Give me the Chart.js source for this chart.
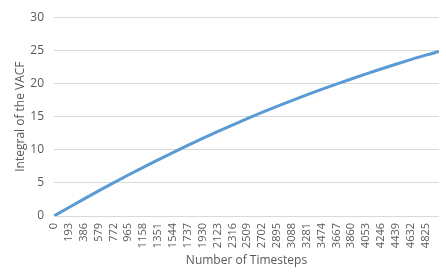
<!DOCTYPE html>
<html>
<head>
<meta charset="utf-8">
<script src="https://cdn.jsdelivr.net/npm/chart.js@4"></script>
<style>
  html, body { margin: 0; padding: 0; background: #fff; }
  canvas { display: block; }
</style>
</head>
<body>
<canvas id="vacfChart" width="446" height="273"></canvas>
<script>
// timesteps sampled from the curve, and the integral read at each one
const timesteps = [0, 193, 386, 579, 772, 965, 1158, 1351, 1544, 1737, 1930, 2123, 2316,
  2509, 2702, 2895, 3088, 3281, 3474, 3667, 3860, 4053, 4246, 4439, 4632, 4825, 4999];
const vacfIntegral = [0, 1.29, 2.55, 3.79, 5.0, 6.18, 7.34, 8.47, 9.57, 10.65, 11.7, 12.72, 13.72,
  14.69, 15.63, 16.54, 17.42, 18.27, 19.1, 19.9, 20.68, 21.44, 22.18, 22.9, 23.6, 24.27, 24.83];
const xTickLabels = [0, 193, 386, 579, 772, 965, 1158, 1351, 1544, 1737, 1930, 2123, 2316,
  2509, 2702, 2895, 3088, 3281, 3474, 3667, 3860, 4053, 4246, 4439, 4632, 4825];
const yTicks = [0, 5, 10, 15, 20, 25, 30];

const textColor = "#595959";
const gridColor = "#d9d9d9";
const tickFont = { family: "'Open Sans', 'Liberation Sans', sans-serif", size: 11 };
const titleFont = { family: "'Open Sans', 'Liberation Sans', sans-serif", size: 12 };

document.addEventListener("DOMContentLoaded", function () {
  const ctx = document.getElementById("vacfChart").getContext("2d");
  new Chart(ctx, {
    type: "line",
    data: {
      datasets: [
        {
          label: "Integral of the VACF",
          data: timesteps.map((t, i) => ({ x: t, y: vacfIntegral[i] })),
          borderColor: "#5b9bd5",
          borderWidth: 3,
          pointRadius: 0,
          tension: 0.4,
          cubicInterpolationMode: "monotone",
          fill: false,
        },
      ],
    },
    options: {
      responsive: false,
      animation: false,
      layout: { padding: { top: 11, right: 6, bottom: 0, left: 13 } },
      plugins: {
        legend: { display: false },
        tooltip: { enabled: false },
      },
      scales: {
        x: {
          type: "linear",
          min: 0,
          max: 4999,
          afterBuildTicks: (scale) => {
            scale.ticks = xTickLabels.map((v) => ({ value: v }));
          },
          afterFit: (scale) => {
            scale.height = 57;
          },
          grid: { display: false, drawTicks: false },
          border: { display: true, color: gridColor, width: 1 },
          ticks: {
            autoSkip: false,
            minRotation: 90,
            maxRotation: 90,
            padding: 7,
            color: textColor,
            font: tickFont,
            callback: (v) => String(v),
          },
          title: {
            display: true,
            text: "Number of Timesteps",
            color: textColor,
            font: titleFont,
            padding: { top: 0, bottom: 5 },
          },
        },
        y: {
          min: 0,
          max: 30,
          afterBuildTicks: (scale) => {
            scale.ticks = yTicks.map((v) => ({ value: v }));
          },
          afterFit: (scale) => {
            scale.width = 41;
          },
          grid: { color: gridColor, drawTicks: false },
          border: { display: false },
          ticks: { color: textColor, font: { ...tickFont, size: 12 }, padding: 10 },
          title: {
            display: true,
            text: "Integral of the VACF",
            color: textColor,
            font: titleFont,
            padding: { top: 0, bottom: 4 },
          },
        },
      },
    },
  });
});
</script>
</body>
</html>
